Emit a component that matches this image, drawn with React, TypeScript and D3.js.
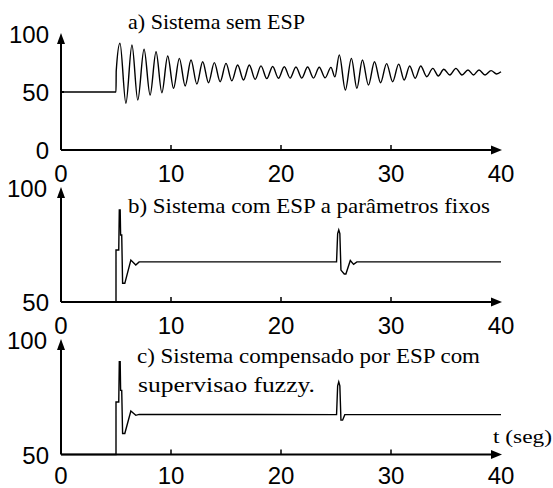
import React from 'react';
import * as d3 from 'd3';

// a) sistema sem ESP: [t (seg), valor] nos extremos da oscilacao
const semEsp: [number, number][] = [
  [0, 50], [5, 50], [5.02, 68], [5.36, 92], [5.9, 40.3], [6.45, 90.5], [6.98, 43.1],
  [7.55, 86.8], [8.1, 47.4], [8.64, 84.7], [9.17, 49.4], [9.7, 81], [10.23, 53.2],
  [10.76, 79], [11.29, 55.2], [11.82, 77.6], [12.35, 56.9], [12.88, 76.1], [13.41, 58],
  [13.94, 75.3], [14.47, 58.9], [15, 74.7], [15.53, 59.7], [16.06, 73.3], [16.59, 60.3],
  [17.12, 73.3], [17.65, 60.9], [18.18, 72.5], [18.71, 61.5], [19.24, 72], [19.77, 61.8],
  [20.3, 71.8], [20.83, 62], [21.36, 71.6], [21.89, 62], [22.42, 71.5], [22.95, 62],
  [23.48, 71.4], [24.01, 62.2], [24.54, 71.2], [24.9, 63], [25.3, 82], [25.85, 51.7],
  [26.4, 79], [26.9, 53.2], [27.4, 77.6], [27.95, 56], [28.5, 76.1], [29.05, 58],
  [29.6, 74.5], [30.15, 58.9], [30.7, 74], [31.2, 60.3], [31.7, 72.4], [32.2, 61.8],
  [32.7, 72.4], [33.25, 63.2], [33.8, 70.4], [34.3, 63.8], [34.8, 69.6], [35.35, 64.7],
  [35.9, 70.4], [36.45, 64.7], [37, 69], [37.5, 64.7], [38, 69], [38.55, 64.7],
  [39.1, 68.4], [39.6, 65.5], [40, 67.5]
];

// b) sistema com ESP a parametros fixos
const espFixo: [number, number][] = [
  [0, 50], [5, 50], [5, 72.8], [5.25, 72.8], [5.3, 90.4], [5.38, 90.4], [5.42, 79.4],
  [5.52, 79.4], [5.6, 58.2], [5.8, 58.2], [6.35, 68.4], [6.8, 66.2], [7.1, 67.6],
  [25.05, 67.6], [25.15, 80], [25.25, 81.6], [25.35, 80], [25.45, 64], [25.75, 62.3],
  [25.9, 62.3], [26.3, 68.2], [26.6, 66.5], [26.9, 67.6], [40, 67.6]
];

// c) sistema compensado por ESP com supervisao fuzzy
const espFuzzy: [number, number][] = [
  [0, 50], [5, 50], [5, 72.9], [5.25, 72.9], [5.3, 90.5], [5.38, 90.5], [5.42, 78],
  [5.52, 78], [5.6, 59.2], [5.8, 59.2], [6.35, 69], [6.8, 67.1], [7.1, 67.5],
  [25.05, 67.4], [25.15, 80], [25.25, 81.7], [25.35, 80], [25.45, 65], [25.6, 65],
  [25.8, 67.4], [40, 67.4]
];

const xTicks = [0, 10, 20, 30, 40];

const panels = [
  {
    key: 'a', data: semEsp, yDomain: [0, 100], yTicks: [0, 50, 100], top: 34, bottom: 150,
    curve: d3.curveMonotoneX, xLabelY: 182,
    title: [{ text: 'a) Sistema sem ESP', x: 128, y: 29, len: 177 }]
  },
  {
    key: 'b', data: espFixo, yDomain: [50, 100], yTicks: [50, 100], top: 188, bottom: 302,
    curve: d3.curveLinear, xLabelY: 334,
    title: [{ text: 'b) Sistema com ESP a parâmetros fixos', x: 128, y: 213, len: 362 }]
  },
  {
    key: 'c', data: espFuzzy, yDomain: [50, 100], yTicks: [50, 100], top: 340, bottom: 454.5,
    curve: d3.curveLinear, xLabelY: 484,
    title: [
      { text: 'c) Sistema compensado por ESP com', x: 137, y: 363, len: 343 },
      { text: 'supervisao fuzzy.', x: 138, y: 392, len: 177 }
    ]
  }
];

const x = d3.scaleLinear().domain([0, 40]).range([61, 501]);

const sans = 'Liberation Sans, Arial, sans-serif';
const serif = 'Liberation Serif, DejaVu Serif, serif';

function Panel({ p }: { p: typeof panels[number] }) {
  const y = d3.scaleLinear().domain(p.yDomain).range([p.bottom, p.top]);
  const line = d3.line<[number, number]>()
    .x(d => x(d[0]))
    .y(d => y(d[1]))
    .curve(p.curve);

  const x0 = x(0);
  const yTop = y(p.yDomain[1]) - 1;
  const xEnd = x(40) + 1;

  return (
    <g>
      <path d={line(p.data) || ''} fill="none" stroke="#000" strokeWidth={1.4} />
      {/* eixos */}
      <line x1={x0} x2={x0} y1={p.bottom} y2={yTop + 8} stroke="#000" strokeWidth={2} />
      <line x1={x0} x2={xEnd - 8} y1={p.bottom} y2={p.bottom} stroke="#000" strokeWidth={2} />
      <path d={`M${x0},${yTop} L${x0 - 4},${yTop + 11} L${x0 + 4},${yTop + 11} Z`} fill="#000" />
      <path d={`M${xEnd},${p.bottom} L${xEnd - 11},${p.bottom - 4.5} L${xEnd - 11},${p.bottom + 4.5} Z`} fill="#000" />
      {xTicks.slice(1, -1).map(t => (
        <line key={t} x1={x(t)} x2={x(t)} y1={p.bottom} y2={p.bottom - 5} stroke="#000" strokeWidth={1.5} />
      ))}
      {p.key === 'a' && (
        <line x1={x0} x2={x0 + 3} y1={y(50)} y2={y(50)} stroke="#000" strokeWidth={2} />
      )}
      {xTicks.map(t => (
        <text key={t} x={x(t)} y={p.xLabelY} textAnchor="middle" fontFamily={sans} fontSize={24} fill="#000">
          {t}
        </text>
      ))}
      {p.yTicks.map(v => (
        <text key={v} x={v === 100 && p.key !== 'a' ? 47 : 49} y={y(v) + 9} textAnchor="end"
          fontFamily={sans} fontSize={24} fill="#000">
          {v}
        </text>
      ))}
      {p.title.map(t => (
        <text key={t.text} x={t.x} y={t.y} fontFamily={serif} fontSize={21} fill="#000"
          textLength={t.len} lengthAdjust="spacingAndGlyphs">
          {t.text}
        </text>
      ))}
    </g>
  );
}

export default function App() {
  return (
    <svg width={553} height={488} style={{ position: 'absolute', left: 0, top: 0, background: '#fff' }}>
      {panels.map(p => <Panel key={p.key} p={p} />)}
      <text x={493} y={443} fontFamily={serif} fontSize={19} fill="#000" textLength={59} lengthAdjust="spacingAndGlyphs">
        t (seg)
      </text>
    </svg>
  );
}
